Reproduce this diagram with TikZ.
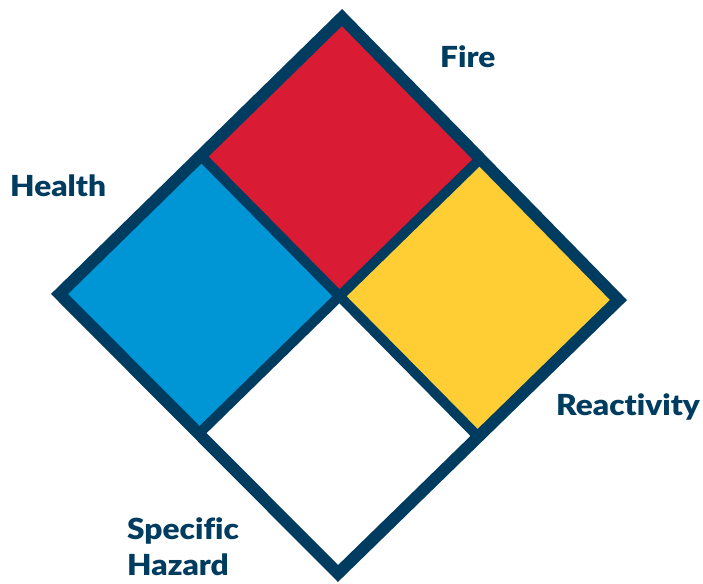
\documentclass[tikz,border=0pt]{standalone}
\usepackage{fontspec}
\setmainfont{Lato}[BoldFont={Lato Black},BoldFeatures={FakeStretch=1.09},Ligatures=NoCommon]
\usetikzlibrary{calc}
\definecolor{navy}{RGB}{0,60,95}
\definecolor{nfpared}{RGB}{218,27,52}
\definecolor{nfpablue}{RGB}{0,150,214}
\definecolor{nfpayellow}{RGB}{255,206,52}
\begin{document}
\begin{tikzpicture}[x=1pt,y=-1pt,
  lbl/.style={anchor=base west,inner sep=0pt,text=navy,font=\fontsize{29}{31}\selectfont\bfseries,align=left},
  border/.style={draw=navy,line width=12pt,line join=miter},
  divider/.style={draw=navy,line width=10pt,line cap=butt}]
\useasboundingbox (0,0) rectangle (703,583);
\coordinate (T) at (342,17.5);
\coordinate (L) at (59.5,294);
\coordinate (R) at (618.5,300);
\coordinate (B) at (338,573.5);
\coordinate (TL) at ($(T)!0.5!(L)$);
\coordinate (TR) at ($(T)!0.5!(R)$);
\coordinate (BL) at ($(B)!0.5!(L)$);
\coordinate (BR) at ($(B)!0.5!(R)$);
\coordinate (C) at ($(TL)!0.5!(BR)$);
\fill[nfpared] (T) -- (TR) -- (C) -- (TL) -- cycle;
\fill[nfpablue] (TL) -- (C) -- (BL) -- (L) -- cycle;
\fill[nfpayellow] (TR) -- (R) -- (BR) -- (C) -- cycle;
\fill[white] (C) -- (BR) -- (B) -- (BL) -- cycle;
\draw[divider] (TL) -- (BR);
\draw[divider] (TR) -- (BL);
\draw[border] (T) -- (R) -- (B) -- (L) -- cycle;
\node[lbl] (fire) at (440,68) {Fire};
\node[lbl] (health) at (10,196) {Health};
\node[lbl] (react) at (556,415) {Reactivity};
\node[lbl] (spec) at (127,539) {Specific};
\node[lbl] (haz) at (127,575) {Hazard};
\end{tikzpicture}
\end{document}
